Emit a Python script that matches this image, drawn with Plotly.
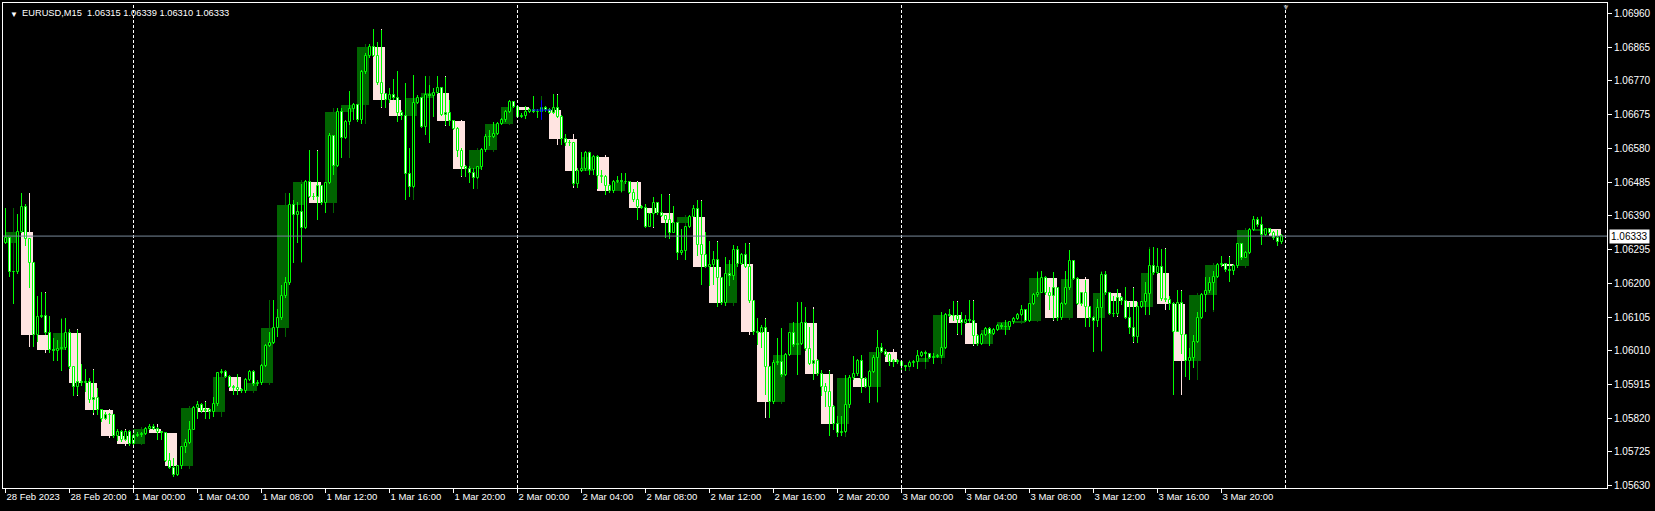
import plotly.graph_objects as go

# EURUSD M15, 28 Feb 2023 16:00 .. 3 Mar 2023 23:45
# prices are in points above 1.05000 (1333 -> 1.06333)
BASE = 1.05
first_open = 1314
close_pts = [
    1327, 1233, 1231, 1344, 1415, 1324, 1258, 1054, 1105, 1108, 1059, 1012, 1009, 1015, 1017, 1059,
    965, 909, 923, 918, 922, 871, 877, 843, 819, 829, 829, 770, 782, 758, 782, 747,
    770, 774, 775, 791, 794, 791, 781, 777, 700, 680, 660, 685, 738, 749, 788, 848,
    857, 841, 843, 838, 859, 946, 951, 937, 909, 904, 899, 897, 927, 951, 915, 918,
    967, 1023, 1031, 1073, 1101, 1164, 1200, 1421, 1392, 1400, 1355, 1485, 1442, 1442, 1474, 1427,
    1482, 1615, 1530, 1683, 1608, 1653, 1690, 1702, 1660, 1795, 1841, 1867, 1841, 1764, 1733, 1716,
    1731, 1723, 1681, 1671, 1508, 1472, 1707, 1721, 1641, 1731, 1728, 1735, 1749, 1674, 1679, 1658,
    1636, 1574, 1529, 1522, 1510, 1496, 1527, 1575, 1611, 1613, 1622, 1649, 1660, 1682, 1711, 1698,
    1669, 1671, 1683, 1688, 1683, 1683, 1693, 1688, 1681, 1693, 1669, 1606, 1594, 1596, 1479, 1516,
    1521, 1568, 1519, 1557, 1503, 1500, 1474, 1461, 1486, 1489, 1486, 1484, 1455, 1435, 1416, 1413,
    1358, 1395, 1427, 1397, 1390, 1378, 1343, 1369, 1284, 1292, 1358, 1388, 1408, 1308, 1280, 1247,
    1252, 1267, 1214, 1144, 1226, 1221, 1294, 1254, 1280, 1245, 1150, 1064, 1059, 1073, 965, 867,
    975, 977, 942, 998, 1059, 1026, 1029, 1087, 1014, 974, 982, 944, 907, 895, 852, 804,
    779, 782, 857, 932, 944, 981, 931, 909, 951, 991, 1019, 1006, 998, 979, 981, 979,
    967, 965, 976, 979, 996, 1003, 1001, 989, 993, 995, 1019, 1111, 1108, 1108, 1098, 1089,
    1096, 1095, 1051, 1029, 1054, 1071, 1057, 1068, 1080, 1078, 1076, 1090, 1099, 1111, 1125, 1095,
    1142, 1167, 1174, 1216, 1172, 1164, 1186, 1103, 1143, 1188, 1263, 1212, 1142, 1172, 1132, 1103,
    1095, 1131, 1223, 1172, 1113, 1113, 1160, 1151, 1103, 1073, 1050, 1134, 1147, 1169, 1249, 1228,
    1247, 1156, 1152, 1142, 1064, 1144, 1053, 981, 989, 1036, 1103, 1167, 1177, 1200, 1219, 1252,
    1254, 1237, 1235, 1249, 1310, 1272, 1285, 1350, 1379, 1364, 1336, 1352, 1341, 1327, 1315, 1333,
]
high_pts = [
    1411, 1330, 1236, 1395, 1455, 1423, 1325, 1260, 1164, 1175, 1172, 1108, 1045, 1040, 1099, 1101,
    1070, 967, 1068, 974, 960, 932, 957, 904, 845, 838, 835, 831, 791, 787, 788, 788,
    775, 781, 782, 796, 803, 805, 794, 785, 779, 721, 707, 688, 741, 761, 812, 854,
    868, 862, 866, 848, 880, 951, 960, 956, 941, 913, 944, 904, 932, 955, 955, 927,
    972, 1028, 1064, 1153, 1129, 1195, 1219, 1453, 1436, 1430, 1479, 1491, 1575, 1453, 1573, 1477,
    1486, 1624, 1618, 1693, 1693, 1660, 1742, 1707, 1705, 1800, 1850, 1874, 1916, 1881, 1914, 1737,
    1749, 1775, 1799, 1688, 1763, 1580, 1787, 1731, 1726, 1784, 1759, 1749, 1784, 1754, 1780, 1716,
    1660, 1641, 1580, 1533, 1530, 1524, 1530, 1580, 1621, 1632, 1655, 1655, 1665, 1688, 1716, 1714,
    1693, 1679, 1699, 1693, 1728, 1690, 1698, 1699, 1693, 1733, 1730, 1674, 1622, 1604, 1590, 1524,
    1571, 1574, 1571, 1561, 1561, 1519, 1505, 1480, 1491, 1502, 1510, 1512, 1489, 1467, 1486, 1421,
    1423, 1399, 1442, 1430, 1452, 1392, 1449, 1418, 1374, 1352, 1361, 1392, 1421, 1435, 1432, 1345,
    1319, 1291, 1316, 1219, 1275, 1266, 1308, 1305, 1284, 1313, 1311, 1153, 1101, 1083, 1099, 967,
    985, 1045, 1073, 1003, 1064, 1092, 1147, 1148, 1132, 1076, 1129, 986, 956, 918, 953, 857,
    826, 826, 942, 942, 996, 987, 998, 935, 956, 998, 1068, 1031, 1014, 1003, 988, 986,
    984, 971, 982, 984, 1012, 1010, 1009, 1004, 1003, 1001, 1120, 1117, 1129, 1150, 1148, 1118,
    1111, 1153, 1150, 1057, 1059, 1078, 1076, 1073, 1084, 1087, 1098, 1095, 1104, 1115, 1139, 1129,
    1145, 1173, 1233, 1235, 1220, 1190, 1231, 1188, 1148, 1234, 1294, 1264, 1217, 1176, 1209, 1136,
    1108, 1157, 1233, 1235, 1173, 1164, 1183, 1165, 1189, 1146, 1186, 1148, 1150, 1203, 1297, 1301,
    1299, 1297, 1297, 1163, 1146, 1181, 1179, 1055, 1019, 1053, 1118, 1174, 1219, 1219, 1235, 1256,
    1277, 1256, 1274, 1254, 1313, 1313, 1291, 1357, 1391, 1386, 1387, 1355, 1348, 1348, 1350, 1339,
]
low_pts = [
    1312, 1219, 1143, 1227, 1341, 1305, 1188, 1021, 1035, 1101, 1054, 1003, 982, 982, 954, 1012,
    960, 882, 884, 911, 895, 862, 834, 829, 810, 815, 805, 763, 757, 754, 757, 742,
    745, 768, 768, 772, 788, 787, 760, 758, 697, 678, 655, 657, 678, 723, 747, 786,
    819, 835, 819, 819, 824, 854, 944, 932, 904, 885, 885, 890, 892, 925, 912, 910,
    913, 964, 1020, 1029, 1050, 1097, 1160, 1195, 1258, 1314, 1261, 1352, 1439, 1435, 1378, 1421,
    1399, 1480, 1505, 1529, 1552, 1606, 1646, 1660, 1655, 1650, 1790, 1836, 1837, 1759, 1696, 1693,
    1709, 1717, 1653, 1660, 1435, 1444, 1468, 1705, 1637, 1618, 1594, 1669, 1733, 1670, 1646, 1643,
    1632, 1557, 1502, 1500, 1483, 1467, 1493, 1519, 1571, 1587, 1608, 1618, 1646, 1655, 1679, 1693,
    1665, 1665, 1662, 1681, 1679, 1665, 1681, 1683, 1677, 1677, 1665, 1590, 1587, 1587, 1474, 1469,
    1514, 1517, 1505, 1505, 1467, 1483, 1449, 1455, 1455, 1482, 1458, 1480, 1452, 1430, 1378, 1408,
    1355, 1358, 1360, 1392, 1386, 1329, 1324, 1341, 1266, 1280, 1267, 1355, 1386, 1277, 1195, 1242,
    1192, 1195, 1134, 1139, 1136, 1192, 1209, 1247, 1252, 1242, 1145, 1054, 1026, 1017, 885, 822,
    860, 970, 937, 939, 995, 1021, 942, 1026, 1010, 970, 927, 939, 882, 852, 771, 787,
    768, 770, 779, 848, 929, 939, 892, 904, 864, 946, 866, 1003, 993, 967, 963, 974,
    956, 954, 963, 963, 958, 993, 979, 986, 974, 989, 989, 1014, 1104, 1095, 1057, 1054,
    1085, 1089, 1026, 1023, 1026, 1051, 1024, 1054, 1066, 1072, 1054, 1068, 1085, 1096, 1108, 1091,
    1091, 1139, 1162, 1172, 1167, 1125, 1096, 1095, 1098, 1139, 1181, 1209, 1139, 1136, 1078, 1078,
    1007, 1078, 1010, 1167, 1110, 1106, 1108, 1140, 1100, 1056, 1036, 1033, 1130, 1111, 1111, 1224,
    1225, 1150, 1147, 1125, 886, 1064, 1000, 937, 928, 961, 1031, 1100, 1120, 1172, 1125, 1214,
    1247, 1231, 1203, 1224, 1244, 1266, 1271, 1282, 1348, 1360, 1308, 1332, 1338, 1322, 1306, 1310,
]

x_labels = [
    "28 Feb 2023", "28 Feb 20:00", "1 Mar 00:00", "1 Mar 04:00", "1 Mar 08:00", "1 Mar 12:00",
    "1 Mar 16:00", "1 Mar 20:00", "2 Mar 00:00", "2 Mar 04:00", "2 Mar 08:00", "2 Mar 12:00",
    "2 Mar 16:00", "2 Mar 20:00", "3 Mar 00:00", "3 Mar 04:00", "3 Mar 08:00", "3 Mar 12:00",
    "3 Mar 16:00", "3 Mar 20:00",
]
price_ticks = [1.05630, 1.05725, 1.05820, 1.05915, 1.06010, 1.06105, 1.06200, 1.06295,
               1.06390, 1.06485, 1.06580, 1.06675, 1.06770, 1.06865, 1.06960]
day_breaks = [32, 128, 224, 320]
last_ohlc = "1.06315 1.06339 1.06310 1.06333"
last_price = 1.06333
marker_bar, marker_price = 134, 1.06688

LIME, BLACK, WHITE = "#00ff00", "#000000", "#ffffff"
BULL_H1, BEAR_H1 = "#006400", "#ffe4e1"
FONT = "Liberation Sans, Arial, sans-serif"

closes = [BASE + v / 1e5 for v in close_pts]
opens = [BASE + first_open / 1e5] + closes[:-1]
highs = [max(BASE + v / 1e5, o, c) for v, o, c in zip(high_pts, opens, closes)]
lows = [min(BASE + v / 1e5, o, c) for v, o, c in zip(low_pts, opens, closes)]
idx = list(range(len(closes)))

# hourly candles built from the four M15 bars of each hour
hx, ho, hh, hl, hc = [], [], [], [], []
for k in range(0, len(closes), 4):
    hx.append(k)
    ho.append(opens[k])
    hc.append(closes[k + 3])
    hh.append(max(highs[k:k + 4]))
    hl.append(min(lows[k:k + 4]))
h_col = [BULL_H1 if c >= o else BEAR_H1 for o, c in zip(ho, hc)]

fig = go.Figure()
# H1 bodies behind everything
fig.add_trace(go.Bar(x=[k + 1.35 for k in hx], base=ho, y=[c - o for o, c in zip(ho, hc)],
                     width=2.9, marker=dict(color=h_col, line_width=0), hoverinfo="skip"))
fig.add_trace(go.Bar(x=[k + 2 for k in hx], base=hl, y=[h - l for h, l in zip(hh, hl)],
                     width=0.25, marker=dict(color=h_col, line_width=0), hoverinfo="skip"))
# M15 candles
fig.add_trace(go.Bar(x=idx, base=lows, y=[h - l for h, l in zip(highs, lows)],
                     width=0.25, marker=dict(color=LIME, line_width=0), hoverinfo="skip"))
fig.add_trace(go.Bar(x=idx, base=opens, y=[c - o for o, c in zip(opens, closes)], width=0.5,
                     marker=dict(color=[BLACK if c >= o else WHITE for o, c in zip(opens, closes)],
                                 line=dict(color=LIME, width=1)),
                     hoverinfo="skip"))
fig.add_trace(go.Scatter(x=[marker_bar], y=[marker_price], mode="markers", hoverinfo="skip",
                         marker=dict(symbol="cross-thin", size=14,
                                     line=dict(color="#0000ff", width=1))))

for b in day_breaks:
    fig.add_vline(x=b, line=dict(color=WHITE, width=1, dash="3px,2px"))
fig.add_hline(y=last_price, line=dict(color="#778899", width=1))

fig.add_annotation(x=1, xref="paper", y=last_price, yref="y", xanchor="left", xshift=2,
                   text=f"{last_price:.5f}", showarrow=False, bgcolor=WHITE, borderpad=1,
                   font=dict(family=FONT, size=10, color=BLACK))
fig.add_annotation(x=0, xref="paper", y=1, yref="paper", xanchor="left", yanchor="top",
                   xshift=5, yshift=-5, text="▼", showarrow=False,
                   font=dict(family=FONT, size=8, color=WHITE))
fig.add_annotation(x=0, xref="paper", y=1, yref="paper", xanchor="left", yanchor="top",
                   xshift=17, yshift=-3, text="EURUSD,M15&nbsp;&nbsp;" + last_ohlc, showarrow=False,
                   font=dict(family=FONT, size=9.3, color=WHITE))
fig.add_annotation(x=day_breaks[-1], xref="x", y=1, yref="paper", yanchor="top", yshift=2,
                   text="▼", showarrow=False, font=dict(family=FONT, size=8, color="#a0a0a0"))

fig.update_xaxes(range=[-0.625, 400.375], tickvals=idx[::16], ticktext=x_labels,
                 ticks="outside", ticklen=4, tickcolor=WHITE, ticklabelposition="outside right",
                 tickfont=dict(family=FONT, size=9.5, color=WHITE), showgrid=False,
                 zeroline=False, showline=True, linecolor=WHITE, linewidth=1, mirror=True)
fig.update_yaxes(range=[1.056234, 1.069896], side="right", tickvals=price_ticks,
                 ticktext=[f"{p:.5f}" for p in price_ticks], ticks="outside", ticklen=4,
                 tickcolor=WHITE, tickfont=dict(family=FONT, size=10, color=WHITE),
                 showgrid=False, zeroline=False, showline=True, linecolor=WHITE, linewidth=1,
                 mirror=True)
fig.update_layout(width=1655, height=511, margin=dict(l=3, r=48, t=3, b=23),
                  paper_bgcolor=BLACK, plot_bgcolor=BLACK, barmode="overlay", bargap=0,
                  showlegend=False, hovermode=False)

fig.write_html("out.html", config={"displayModeBar": False},
               post_script="document.body.style.margin='0';"
                           "document.body.style.overflow='hidden';")
